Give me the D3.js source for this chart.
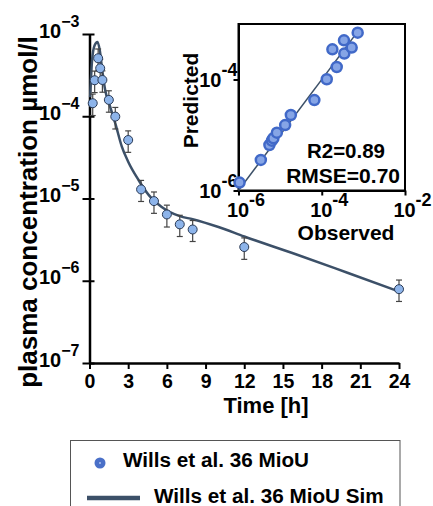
<!DOCTYPE html>
<html lang="en">
<head>
<meta charset="UTF-8">
<title>Wills et al. 36 MioU</title>
<script src="https://d3js.org/d3.v7.min.js"></script>
<style>
    body { margin: 0; background: white; }
    svg { display: block; font-family: "Liberation Sans", Arial, sans-serif; font-weight: bold; }
</style>
</head>
<body>
<script>
// observed data (time in h, concentration in umol/l, SD)
var obsTime = [0.25, 0.4, 0.67, 0.83, 1.0, 1.5, 2, 3, 4, 5, 6, 7, 8, 12, 24];
var obsConc = [1.44e-4, 2.74e-4, 5.07e-4, 3.83e-4, 2.76e-4, 1.58e-4, 9.9e-5, 5.14e-5,
               1.29e-5, 9.3e-6, 6.4e-6, 4.85e-6, 4.2e-6, 2.57e-6, 7.9e-7];
var obsSd = [4.2e-5, 8.0e-5, 1.5e-4, 1.1e-4, 8.0e-5, 4.6e-5, 2.9e-5, 1.5e-5,
             3.7e-6, 2.7e-6, 1.9e-6, 1.4e-6, 1.2e-6, 7.5e-7, 2.3e-7];

// simulated curve
var simTime = [0.05, 0.2, 0.4, 0.62, 0.8, 1.0, 1.21, 1.6, 2.0, 2.5, 3.0, 3.8, 4.6, 5.6, 7.0, 8.0, 10, 12, 16, 20, 24];
var simConc = [1.7e-4, 4.8e-4, 7.3e-4, 8.0e-4, 6.3e-4, 3.5e-4, 2.1e-4, 1.31e-4, 8.2e-5, 4.3e-5, 2.8e-5,
               1.68e-5, 1.1e-5, 7.9e-6, 6.1e-6, 5.6e-6, 4.5e-6, 3.45e-6, 2.1e-6, 1.25e-6, 7.4e-7];

// goodness of fit inset
var gofObs = [1.06e-6, 3.44e-6, 5.53e-6, 6.32e-6, 6.9e-6, 8.34e-6, 1.32e-5, 1.81e-5, 6.65e-5,
              1.32e-4, 2.29e-4, 1.8e-4, 3.48e-4, 5.24e-4, 3.42e-4, 7.3e-4];
var gofPred = [1.39e-6, 3.56e-6, 6.61e-6, 7.91e-6, 8.73e-6, 1.1e-5, 1.51e-5, 2.29e-5, 4.25e-5,
               1.01e-4, 1.68e-4, 3.5e-4, 2.93e-4, 3.76e-4, 5.08e-4, 6.98e-4];

var xTicks = [0, 3, 6, 9, 12, 15, 18, 21, 24];
var yTicks = [1e-7, 1e-6, 1e-5, 1e-4, 1e-3];
var gofXTicks = [1e-6, 1e-4, 1e-2];
var gofYTicks = [1e-6, 1e-4];
var legendLabels = ["Wills et al. 36 MioU", "Wills et al. 36 MioU Sim"];

var lineColor = "#3c5068";

var svg = d3.select("body").append("svg")
    .attr("width", 433)
    .attr("height", 506);

// main scales
var x = d3.scaleLinear().domain([0, 24]).range([89.5, 399]);
var y = d3.scaleLog().domain([1e-7, 1e-3]).range([363, 34]);

function expLabel(sel, d, minus, supSize, supDy) {
    var e = Math.round(Math.log10(d));
    sel.text(null);
    sel.append("tspan").text("10");
    sel.append("tspan")
        .attr("dy", supDy)
        .attr("font-size", supSize)
        .text((e < 0 ? minus : "") + Math.abs(e));
}

// y axis
var yAxis = svg.append("g").attr("transform", "translate(89.5,0)")
    .call(d3.axisLeft(y).tickValues(yTicks).tickSize(7).tickSizeOuter(0).tickFormat(""));
yAxis.select(".domain").attr("stroke-width", 2.5);
yAxis.selectAll(".tick line").attr("x2", -7).attr("x1", 5).attr("stroke-width", 2);
yAxis.selectAll(".tick").append("text")
    .attr("x", -10)
    .attr("y", 3)
    .attr("text-anchor", "end")
    .attr("font-size", 20)
    .attr("fill", "black")
    .each(function (d) { expLabel(d3.select(this), d, "\u2212", 16, -11); });

// x axis
var xAxis = svg.append("g").attr("transform", "translate(0,363)")
    .call(d3.axisBottom(x).tickValues(xTicks).tickSize(6).tickSizeOuter(0));
xAxis.select(".domain").attr("stroke-width", 2.5);
xAxis.selectAll(".tick line").attr("stroke-width", 2);
xAxis.selectAll(".tick text")
    .attr("y", 11.5)
    .attr("dy", "0.71em")
    .attr("font-size", 19.5)
    .attr("fill", "black");
yAxis.attr("font-family", null);
xAxis.attr("font-family", null);

// axis titles
svg.append("text")
    .attr("x", 266)
    .attr("y", 413)
    .attr("text-anchor", "middle")
    .attr("font-size", 22)
    .text("Time [h]");

svg.append("text")
    .attr("transform", "translate(37,212) rotate(-90)")
    .attr("text-anchor", "middle")
    .attr("font-size", 26)
    .text("plasma concentration \u00b5mol/l");

// simulated line
var simData = simTime.map((t, i) => ({ t: t, c: simConc[i] }));
var line = d3.line()
    .x(d => x(d.t))
    .y(d => y(d.c))
    .curve(d3.curveMonotoneX);

svg.append("path")
    .datum(simData)
    .attr("d", line)
    .attr("fill", "none")
    .attr("stroke", lineColor)
    .attr("stroke-width", 2.5);

// error bars and observed points
var obsData = obsTime.map((t, i) => ({ t: t, c: obsConc[i], sd: obsSd[i] }));
var bars = svg.append("g").attr("stroke", "#444").attr("stroke-width", 1.2);
obsData.forEach(function (d) {
    var x0 = x(d.t), yHi = y(d.c + d.sd), yLo = y(d.c - d.sd);
    bars.append("line").attr("x1", x0).attr("x2", x0).attr("y1", yHi).attr("y2", yLo);
    bars.append("line").attr("x1", x0 - 3).attr("x2", x0 + 3).attr("y1", yHi).attr("y2", yHi);
    bars.append("line").attr("x1", x0 - 3).attr("x2", x0 + 3).attr("y1", yLo).attr("y2", yLo);
});

svg.append("g").selectAll("circle")
    .data(obsData)
    .enter().append("circle")
    .attr("cx", d => x(d.t))
    .attr("cy", d => y(d.c))
    .attr("r", 4.5)
    .attr("fill", "#8db4ea")
    .attr("stroke", "#2a3a55")
    .attr("stroke-width", 1);

// inset: predicted vs observed
var gx = d3.scaleLog().domain([1e-6, 1e-2]).range([238.5, 405]);
var gy = d3.scaleLog().domain([1e-6, 1e-3]).range([190.5, 24]);

svg.append("rect")
    .attr("x", gx.range()[0])
    .attr("y", gy.range()[1])
    .attr("width", gx.range()[1] - gx.range()[0])
    .attr("height", gy.range()[0] - gy.range()[1])
    .attr("fill", "white")
    .attr("stroke", "black")
    .attr("stroke-width", 2);

var gxAxis = svg.append("g").attr("transform", "translate(0,190.5)")
    .call(d3.axisBottom(gx).tickValues(gofXTicks).tickSize(5).tickSizeOuter(0).tickFormat(""));
gxAxis.select(".domain").attr("stroke-width", 2);
gxAxis.selectAll(".tick line").attr("stroke-width", 2);
gxAxis.selectAll(".tick").append("text")
    .attr("x", 7)
    .attr("y", 26)
    .attr("text-anchor", "middle")
    .attr("font-size", 20)
    .attr("fill", "black")
    .each(function (d) { expLabel(d3.select(this), d, "-", 18, -11); });

var gyAxis = svg.append("g").attr("transform", "translate(238.5,0)")
    .call(d3.axisLeft(gy).tickValues(gofYTicks).tickSize(5).tickSizeOuter(0).tickFormat(""));
gyAxis.select(".domain").attr("stroke-width", 2);
gyAxis.selectAll(".tick line").attr("stroke-width", 2);
gyAxis.selectAll(".tick").append("text")
    .attr("x", -1)
    .attr("y", 7)
    .attr("text-anchor", "end")
    .attr("font-size", 20)
    .attr("fill", "black")
    .each(function (d) { expLabel(d3.select(this), d, "-", 18, -11); });
gxAxis.attr("font-family", null);
gyAxis.attr("font-family", null);

svg.append("text")
    .attr("x", 346)
    .attr("y", 240)
    .attr("text-anchor", "middle")
    .attr("font-size", 21)
    .text("Observed");

svg.append("text")
    .attr("transform", "translate(198,100.5) rotate(-90)")
    .attr("text-anchor", "middle")
    .attr("font-size", 21)
    .text("Predicted");

// identity line
svg.append("line")
    .attr("x1", gx(1e-6)).attr("y1", gy(1e-6))
    .attr("x2", gx(7e-4)).attr("y2", gy(7e-4))
    .attr("stroke", lineColor)
    .attr("stroke-width", 1.5);

svg.append("g").selectAll("circle")
    .data(gofObs.map((o, i) => ({ o: o, p: gofPred[i] })))
    .enter().append("circle")
    .attr("cx", d => gx(d.o))
    .attr("cy", d => gy(d.p))
    .attr("r", 5)
    .attr("fill", "#86a5e6")
    .attr("stroke", "#4169c8")
    .attr("stroke-width", 2.5);

svg.append("text")
    .attr("x", 385)
    .attr("y", 158)
    .attr("text-anchor", "end")
    .attr("font-size", 20.5)
    .text("R2=0.89");

svg.append("text")
    .attr("x", 400)
    .attr("y", 183)
    .attr("text-anchor", "end")
    .attr("font-size", 21)
    .text("RMSE=0.70");

// legend
svg.append("rect")
    .attr("x", 70.5)
    .attr("y", 440.5)
    .attr("width", 329.5)
    .attr("height", 80)
    .attr("fill", "none")
    .attr("stroke", "#555")
    .attr("stroke-width", 1);

svg.append("circle")
    .attr("cx", 100).attr("cy", 463)
    .attr("r", 5.5)
    .attr("fill", "#4a70c8");
svg.append("circle")
    .attr("cx", 100).attr("cy", 463)
    .attr("r", 1)
    .attr("fill", "#b0c4f0");
svg.append("text")
    .attr("x", 123)
    .attr("y", 467)
    .attr("font-size", 20.7)
    .text(legendLabels[0]);

svg.append("line")
    .attr("x1", 87).attr("x2", 140)
    .attr("y1", 498).attr("y2", 498)
    .attr("stroke", lineColor)
    .attr("stroke-width", 4.5);
svg.append("text")
    .attr("x", 154)
    .attr("y", 503)
    .attr("font-size", 20.7)
    .text(legendLabels[1]);
</script>
</body>
</html>
